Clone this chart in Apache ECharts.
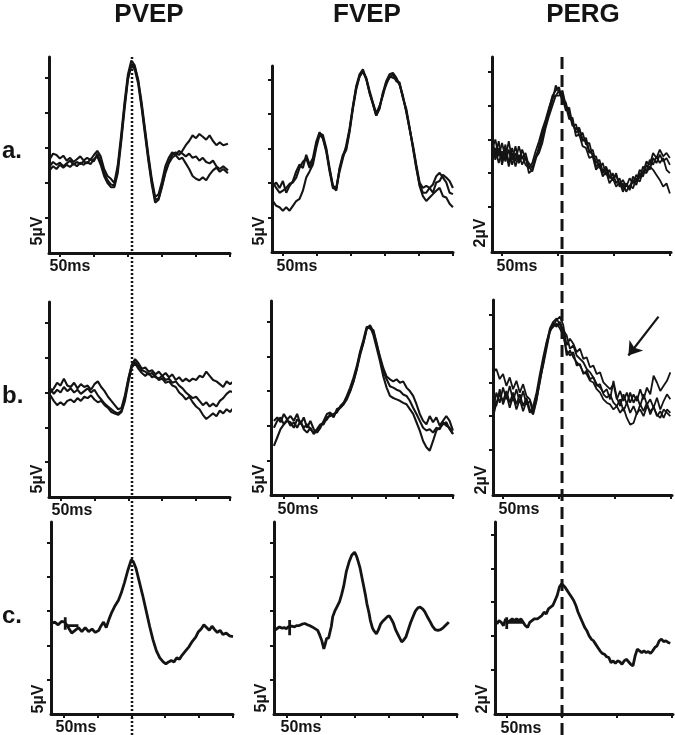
<!DOCTYPE html>
<html><head><meta charset="utf-8">
<script src="https://cdn.jsdelivr.net/npm/echarts@6/dist/echarts.min.js"></script>
<style>html,body{margin:0;padding:0;background:#fff}#c{width:675px;height:735px}</style>
</head><body><div id="c"></div>
<script>
// ---------- labels ----------
const columnTitles = ['PVEP', 'FVEP', 'PERG'];
const rowLabels = ['a.', 'b.', 'c.'];
const timeScaleLabel = '50ms';
const ampScaleLabels = ['5µV', '5µV', '2µV'];

// ---------- tick values ----------
const vepTicksMs = [0, 50, 100, 150, 200, 250];
const pergTicksMs = [0, 50, 100, 150];
const vepTicksUv = [5, 10, 15, 20, 25];
const pergTicksUv = [0, 2, 4, 6, 8];

// ---------- reference latencies ----------
const pvepP100Ms = 106;   // dotted line
const pergP50Ms = 53.6;   // dashed line
const pergArrowFrom = [139.4, 7.9];
const pergArrowTo = [112.4, 5.6];

// ---------- PVEP (µV vs ms) ----------
const pvepTimesA = [-15,-10,-5,0,5,10,15,20,25,30,35,40,45,50,55,60,65,70,75,80,85,90,95,100,105,110,115,120,125,130,135,140,145,150,155,160,165,170,175,180,185,190,195,200,205,210,215,220,225,230,235,240,247];
const pvepA1 = [13.4,14.2,14.0,13.5,13.9,13.2,13.6,13.0,13.4,13.8,13.2,13.6,13.3,14.0,14.6,13.8,12.0,11.0,10.6,10.0,12.5,16.8,21.5,25.5,27.5,26.8,24.6,21.2,17.4,13.6,10.2,7.6,7.8,9.6,11.6,13.0,14.0,14.4,14.0,14.6,15.4,16.0,16.8,16.4,17.0,16.6,16.2,16.8,16.0,15.4,15.8,15.4,15.6];
const pvepA2 = [12.4,13.0,12.6,12.9,12.4,12.8,13.2,12.6,13.0,12.7,13.1,12.8,13.4,13.1,14.2,13.0,11.4,10.4,9.8,9.6,12.0,16.2,21.0,25.0,27.0,26.6,24.8,21.6,17.8,14.0,10.6,8.0,8.4,10.2,12.4,13.6,14.4,14.0,14.6,14.2,13.8,14.2,13.6,13.8,13.2,13.6,13.0,12.8,13.2,12.4,12.0,12.4,11.8];
const pvepA3 = [11.8,12.4,12.0,12.6,12.2,12.6,12.3,12.8,12.4,12.9,12.6,13.0,12.7,13.4,13.8,12.6,11.0,10.0,9.4,9.4,11.4,15.8,20.5,24.8,26.8,26.2,24.2,20.8,17.0,13.2,9.8,7.2,7.6,9.4,11.4,12.8,13.6,14.0,13.4,13.6,12.8,12.0,11.0,10.6,10.4,10.8,10.4,11.2,11.8,12.2,11.6,12.0,11.4];

const pvepTimesB = [-15,-10,-5,0,5,10,15,20,25,30,35,40,45,50,55,60,65,70,75,80,85,90,95,100,105,110,115,120,125,130,135,140,145,150,155,160,165,170,175,180,185,190,195,200,205,210,215,220,225,230,235,240,245,250,255];
const pvepB1 = [15.0,15.6,16.4,16.0,17.0,16.0,15.8,16.4,15.6,16.2,15.8,16.0,15.4,16.2,16.6,15.8,15.2,14.4,13.8,13.2,12.6,12.8,14.6,17.0,19.0,19.8,19.2,18.4,18.6,18.0,18.2,17.6,18.0,17.4,17.8,17.2,17.6,16.8,17.2,16.6,17.0,16.6,17.0,16.8,17.4,17.2,18.0,17.4,16.8,16.6,16.2,15.8,16.6,16.2,16.6];
const pvepB2 = [15.6,14.8,15.4,15.0,15.8,15.2,15.6,15.0,15.4,14.8,15.2,15.6,15.0,15.4,14.6,14.0,13.4,13.0,12.6,12.2,12.0,12.4,14.2,16.8,18.8,19.4,18.8,18.2,18.0,17.6,17.8,17.2,17.0,17.4,16.8,17.0,16.4,16.6,16.0,15.6,15.0,14.6,14.2,14.4,13.8,13.2,13.6,13.0,13.4,13.0,13.8,14.2,14.8,15.2,15.0];
const pvepB3 = [14.6,13.8,13.2,13.6,13.2,13.8,14.0,13.6,14.2,13.8,14.4,14.2,14.6,14.0,13.6,13.8,13.2,12.8,12.2,12.0,11.8,12.2,13.8,16.4,18.6,19.2,18.4,17.8,17.4,17.8,17.2,17.4,16.8,17.0,16.4,16.6,16.0,15.8,15.0,14.6,14.0,14.4,13.6,13.0,12.6,11.8,11.2,11.6,12.0,11.6,12.4,12.0,12.6,12.2,12.8];

const pvepC = [[-18,13.2],[-13,13.4],[-8,13.0],[-3,13.5],[2,13.4],[7,12.6],[12,11.8],[17,12.2],[22,12.6],[27,12.0],[32,12.6],[37,12.0],[42,12.4],[47,11.9],[52,12.2],[55,12.8],[59,13.4],[63,12.6],[67,13.8],[71,14.8],[76,15.8],[81,16.6],[85,17.6],[90,19.2],[95,21.0],[100,22.5],[103,22.2],[107,21.2],[112,19.2],[117,17.2],[122,15.0],[127,12.8],[132,10.8],[137,9.2],[142,8.2],[147,7.6],[151,7.3],[155,7.6],[159,7.8],[163,7.6],[167,8.2],[171,8.0],[175,8.6],[180,9.2],[185,9.8],[190,10.6],[195,11.2],[199,12.0],[203,12.4],[207,13.0],[211,12.6],[215,12.2],[219,12.8],[223,12.3],[227,11.9],[231,12.2],[235,11.6],[240,11.8],[245,11.4],[250,11.3]];
const pvepCStart = [[2.5,14.1],[2.5,12.3],[2.5,12.9],[22,12.9]];

// ---------- FVEP (µV vs ms) ----------
const fvepTimesAB = [-14.7,-9.8,-4.9,0,4.9,9.8,14.7,19.6,24.5,29.4,34.3,39.2,44.1,49,53.9,58.8,63.7,68.6,73.5,78.4,83.3,88.2,93.1,98,102.9,107.8,112.7,117.6,122.5,127.4,132.3,137.2,142.1,147,151.9,156.8,161.7,166.6,171.5,176.4,181.3,186.2,191.1,196,200.9,205.8,210.7,215.6,220.5,225.4,230.3,235.2,240.1,245,249.9];
const fvepA1 = [9.6,10.1,9.3,10.3,8.6,9.6,10.3,11.7,12.7,12.2,14.1,12.7,13.6,16.0,17.4,16.5,14.6,11.7,9.3,9.1,11.7,13.6,15.5,17.9,21.2,24.1,25.8,26.5,25.1,23.1,21.5,19.8,20.8,23.1,24.8,25.8,26.0,25.3,24.3,22.7,20.3,17.9,15.5,12.7,10.1,9.3,9.6,9.3,9.8,11.0,11.5,10.8,10.1,8.6,8.4];
const fvepA2 = [10.1,9.3,8.6,8.9,9.3,9.9,10.1,10.8,12.2,13.1,13.6,12.2,13.1,15.5,17.2,17.0,15.1,12.2,9.6,8.9,12.2,14.1,15.1,17.7,21.0,23.9,25.5,26.2,25.3,23.4,21.7,20.1,21.2,22.7,24.6,25.3,25.8,24.8,24.6,22.4,20.8,18.1,15.1,12.2,9.8,8.6,8.6,9.3,8.6,10.1,10.3,11.2,10.8,10.3,9.3];
const fvepA3 = [7.4,6.7,6.5,6.0,6.5,6.0,6.7,7.4,7.7,8.9,10.8,11.7,12.7,15.1,17.0,16.5,14.8,12.0,9.6,9.3,12.0,13.9,14.8,17.4,20.8,23.6,25.5,26.2,25.1,23.1,21.5,19.8,21.0,23.1,24.3,25.5,25.3,25.1,24.3,22.4,20.5,17.9,15.3,12.4,9.6,8.1,7.4,7.9,8.4,8.9,9.3,8.1,7.9,7.0,6.5];
const fvepB1 = [10.7,11.2,10.5,11.7,10.9,11.4,10.7,11.7,10.2,11.2,9.7,10.7,9.5,9.0,9.7,10.7,11.7,11.9,11.2,12.4,12.6,13.1,14.0,15.0,16.4,18.1,20.2,21.9,24.0,24.5,23.6,21.7,20.0,18.3,17.1,16.7,16.4,16.7,16.2,16.4,15.5,15.0,14.3,13.1,11.7,10.7,10.2,11.4,10.5,11.2,10.0,10.7,11.4,10.7,9.3];
const fvepB2 = [9.7,10.7,11.2,10.2,10.7,10.5,9.7,10.9,10.5,9.7,10.2,9.5,9.0,9.5,10.2,10.2,11.2,11.4,11.7,11.9,12.8,13.3,14.3,15.5,16.9,18.6,20.7,22.4,24.3,24.0,23.8,21.9,19.7,17.8,16.7,15.7,15.5,15.2,15.0,14.5,14.3,13.6,12.6,11.7,10.7,9.7,9.3,9.5,9.0,9.7,9.5,10.5,10.0,9.7,8.8];
const fvepB3 = [7.1,8.3,9.5,10.2,10.9,10.0,10.5,9.7,10.7,9.5,9.0,9.7,8.8,9.3,10.0,10.5,10.9,11.7,11.4,12.1,12.6,13.1,13.8,15.0,16.4,18.3,20.5,22.1,24.0,24.3,23.1,21.2,19.3,17.1,15.5,14.3,14.0,13.8,13.6,13.3,13.1,12.4,11.7,10.5,9.3,7.8,6.9,6.4,7.8,9.3,9.7,10.2,10.5,9.5,8.8];
const fvepC = [[-17,12.2],[-13,12.5],[-10,12.7],[-6,12.5],[-3,12.6],[0,12.45],[3,12.7],[5,12.6],[8,12.8],[12,12.7],[15,12.9],[19,12.9],[23,13.1],[27,13.2],[31,13.0],[34,12.9],[38,12.7],[42,12.45],[46,12.2],[49,11.5],[52,10.7],[55,9.5],[57,10.2],[59,11.0],[62,11.1],[64,11.3],[66,12.8],[68,14.2],[71,15.0],[74,15.6],[78,16.4],[81,17.4],[84,18.6],[88,20.8],[92,22.2],[96,23.2],[100,23.6],[103,23.0],[106,22.0],[108,21.3],[111,19.8],[113,18.8],[116,17.3],[118,16.1],[121,14.8],[123,13.7],[126,12.6],[128,12.2],[132,11.7],[135,12.3],[138,13.1],[142,13.6],[145,13.9],[148,14.2],[151,14.3],[154,13.8],[157,13.2],[160,12.3],[164,11.5],[169,10.5],[172,10.8],[175,11.2],[179,12.4],[182,13.3],[186,14.3],[189,15.0],[193,15.5],[196,15.6],[200,15.3],[203,14.9],[207,14.1],[211,13.4],[214,12.8],[218,12.3],[222,12.2],[226,12.3],[230,12.6],[233,12.9],[236,13.2],[238,13.4]];
const fvepCStart = [[4.9,13.7],[4.9,11.5]];

// ---------- PERG (µV vs ms) ----------
const pergTimesAB = [-9,-6,-3,0,3,6,9,12,15,18,21,24,27,30,33,36,39,42,45,48,51,54,57,60,63,66,69,72,75,78,81,84,87,90,93,96,99,102,105,108,111,114,117,120,123,126,129,132,135,138,141,144,147,150];
const pergA1 = [4.2,3.0,3.9,2.8,3.7,2.6,3.5,2.7,3.6,2.9,3.2,2.4,2.1,2.8,3.6,4.4,5.0,5.6,6.3,7.2,6.8,6.4,6.2,5.4,5.0,4.4,4.6,3.9,4.1,3.3,3.1,2.4,2.6,2.0,2.3,1.7,2.0,1.4,1.7,1.1,1.4,1.0,1.6,1.3,2.0,1.8,2.5,2.2,2.9,2.6,3.1,2.7,2.9,2.5];
const pergA2 = [3.4,4.0,3.0,3.8,2.9,3.9,2.8,3.6,2.7,3.4,2.8,2.6,2.3,3.0,3.4,4.1,4.9,5.8,6.6,6.9,7.1,6.2,6.0,5.6,4.8,4.9,4.2,4.4,3.7,3.8,3.0,3.0,2.3,2.6,1.9,2.2,1.6,1.9,1.3,1.6,1.2,1.7,1.4,1.9,1.7,2.4,2.1,2.8,2.5,3.0,2.6,2.9,2.2,2.0];
const pergA3 = [3.0,3.5,2.6,3.3,2.7,3.4,2.5,3.2,2.6,3.0,2.5,2.3,2.6,3.3,3.9,4.6,5.2,5.9,6.5,6.6,6.9,6.5,5.7,5.9,4.9,4.6,4.7,4.0,3.9,3.2,3.4,2.6,2.8,2.1,2.4,1.8,1.6,2.0,1.2,1.4,0.9,1.3,1.1,1.7,1.5,2.1,2.0,2.4,2.2,1.9,1.6,1.2,1.4,0.8];
const pergA4 = [3.8,2.8,3.5,2.5,3.4,2.4,3.2,2.4,3.1,2.5,3.0,2.0,2.2,2.9,3.2,3.8,4.7,5.4,6.0,6.6,6.6,6.9,6.0,5.2,5.3,4.2,4.3,3.6,3.5,2.9,3.0,2.2,2.5,1.8,2.1,1.4,1.7,1.2,1.5,0.9,1.3,1.1,1.8,1.5,2.2,2.0,2.7,2.5,3.2,2.9,3.4,3.0,3.2,2.9];
const pergB1 = [4.6,4.8,4.2,4.5,3.8,4.3,3.6,4.1,3.4,3.9,3.2,3.0,2.4,3.2,4.2,5.0,6.0,7.0,7.4,7.7,7.9,7.4,6.2,6.6,6.3,5.8,6.0,5.4,5.5,4.9,5.0,4.5,4.6,4.0,3.8,3.6,3.9,3.0,3.5,2.9,3.4,2.8,3.3,2.9,3.6,3.0,3.7,3.3,4.4,4.0,3.5,3.8,4.1,4.6];
const pergB2 = [2.3,3.4,2.8,3.7,3.0,3.8,2.9,3.6,2.8,3.5,2.7,2.9,2.2,3.0,4.0,5.1,6.2,7.0,7.5,7.3,7.6,7.1,6.8,6.0,6.2,5.6,5.4,5.2,4.8,4.6,4.3,3.9,3.7,3.4,3.6,3.0,4.1,3.1,2.6,3.3,2.7,3.4,2.8,3.2,2.6,3.3,2.7,3.0,2.5,3.1,2.4,2.9,3.3,3.0];
const pergB3 = [1.9,2.8,3.3,2.9,3.5,2.8,3.4,2.7,3.3,2.6,3.1,2.4,2.1,2.9,4.1,5.2,6.3,7.2,7.6,7.8,7.4,7.0,5.6,5.9,5.5,5.2,5.0,4.6,4.5,4.1,4.0,3.6,3.4,3.0,2.8,2.7,2.4,2.6,2.2,2.5,1.9,1.5,1.6,2.2,2.4,2.0,2.6,2.3,2.5,2.1,1.9,2.4,2.2,2.0];
const pergB4 = [3.2,2.6,3.6,2.7,3.3,2.5,3.2,2.4,3.0,2.3,2.9,2.2,2.6,3.4,4.5,5.5,6.4,7.1,7.3,7.5,7.2,6.8,5.9,5.6,5.8,5.0,5.1,4.5,4.7,4.2,4.3,3.8,3.9,3.3,3.1,3.3,2.8,2.6,3.0,2.3,2.8,2.2,2.6,2.1,2.7,2.3,2.8,2.1,2.6,2.0,2.3,1.9,2.4,2.2];
const pergC = [[-9,2.7],[-7,2.9],[-5,2.8],[-3,2.6],[-1,3.0],[1,2.8],[3,2.9],[5,3.0],[7,2.9],[9,3.0],[11,2.9],[13,3.0],[15,2.8],[17,2.6],[19,2.5],[21,2.8],[23,2.9],[25,3.0],[28,3.0],[30,3.1],[32,3.2],[34,3.4],[36,3.3],[38,3.6],[40,3.7],[42,3.8],[44,4.1],[46,4.4],[48,4.9],[50,5.1],[51,5.2],[53,4.9],[55,4.7],[57,4.5],[59,4.3],[61,4.1],[63,3.8],[65,3.4],[67,3.1],[69,2.8],[71,2.5],[73,2.3],[75,2.0],[77,1.8],[79,1.7],[81,1.5],[83,1.3],[85,1.1],[87,0.95],[89,0.9],[91,0.75],[93,0.7],[95,0.4],[97,0.5],[99,0.35],[101,0.5],[103,0.45],[105,0.3],[107,0.5],[109,0.6],[111,0.45],[113,0.3],[115,0.2],[117,0.8],[119,1.2],[121,1.1],[123,1.0],[125,1.1],[127,1.0],[129,1.05],[131,0.95],[133,1.1],[135,1.3],[137,1.4],[139,1.7],[141,1.8],[143,1.65],[145,1.7],[147,1.6],[149,1.55]];
const pergCStart = [[0,3.1],[0,2.4],[0,2.8],[15,2.8]];

// ---------- build ----------
const zip = (t, v) => t.map((x, i) => [x, v[i]]);
const INK = '#141414';

const panels = [
  // column 1 : PVEP
  {g:{left:49, top:57, width:181, height:196}, x:[-16,250], y:[0,28], xt:vepTicksMs, yt:vepTicksUv, lw:2.1,
   traces:[zip(pvepTimesA,pvepA1), zip(pvepTimesA,pvepA2), zip(pvepTimesA,pvepA3)]},
  {g:{left:49, top:302, width:181, height:195}, x:[-17,250], y:[0,28], xt:vepTicksMs, yt:vepTicksUv, lw:2.1,
   traces:[zip(pvepTimesB,pvepB1), zip(pvepTimesB,pvepB2), zip(pvepTimesB,pvepB3)]},
  {g:{left:51, top:522, width:182, height:192}, x:[-18.5,250], y:[0,28], xt:vepTicksMs, yt:vepTicksUv, lw:2.8,
   traces:[pvepC, pvepCStart]},
  // column 2 : FVEP
  {g:{left:272, top:66, width:181, height:186}, x:[-16,250], y:[0,27], xt:vepTicksMs, yt:vepTicksUv, lw:2.1,
   traces:[zip(fvepTimesAB,fvepA1), zip(fvepTimesAB,fvepA2), zip(fvepTimesAB,fvepA3)]},
  {g:{left:271, top:301, width:182, height:194}, x:[-19,250], y:[0,28], xt:vepTicksMs, yt:vepTicksUv, lw:2.1,
   traces:[zip(fvepTimesAB,fvepB1), zip(fvepTimesAB,fvepB2), zip(fvepTimesAB,fvepB3)]},
  {g:{left:274, top:522, width:183, height:192}, x:[-18,250], y:[0,28], xt:vepTicksMs, yt:vepTicksUv, lw:2.8,
   traces:[fvepC, fvepCStart]},
  // column 3 : PERG
  {g:{left:492, top:57, width:179, height:195}, x:[-9,151], y:[-2.67,8.89], xt:pergTicksMs, yt:pergTicksUv, lw:1.8,
   traces:[zip(pergTimesAB,pergA1), zip(pergTimesAB,pergA2), zip(pergTimesAB,pergA3), zip(pergTimesAB,pergA4)]},
  {g:{left:493, top:300, width:179, height:195}, x:[-9,151.5], y:[-2.67,8.89], xt:pergTicksMs, yt:pergTicksUv, lw:1.8,
   traces:[zip(pergTimesAB,pergB1), zip(pergTimesAB,pergB2), zip(pergTimesAB,pergB3), zip(pergTimesAB,pergB4)], arrow:true},
  {g:{left:495, top:522, width:178, height:192}, x:[-10.7,151.5], y:[-2.66,8.77], xt:pergTicksMs, yt:pergTicksUv, lw:2.8,
   traces:[pergC, pergCStart]}
];

const grid = [], xAxis = [], yAxis = [], series = [];
panels.forEach((p, i) => {
  grid.push(Object.assign({containLabel:false}, p.g));
  xAxis.push({type:'value', gridIndex:i, min:p.x[0], max:p.x[1],
    axisLine:{show:true, onZero:false, lineStyle:{color:INK, width:3}},
    axisTick:{show:true, customValues:p.xt, length:4, inside:false, lineStyle:{color:INK, width:2}},
    axisLabel:{show:false}, splitLine:{show:false}});
  yAxis.push({type:'value', gridIndex:i, min:p.y[0], max:p.y[1],
    axisLine:{show:true, onZero:false, lineStyle:{color:INK, width:3}},
    axisTick:{show:true, customValues:p.yt, length:4, inside:false, lineStyle:{color:INK, width:2}},
    axisLabel:{show:false}, splitLine:{show:false}});
  p.traces.forEach((tr, k) => {
    const s = {type:'line', xAxisIndex:i, yAxisIndex:i, data:tr, showSymbol:false, symbol:'none',
      clip:false, silent:true, lineStyle:{color:INK, width:p.lw}, z:3};
    if (p.arrow && k === 0) {
      s.markLine = {silent:true, symbol:['none','arrow'], symbolSize:13, animation:false,
        label:{show:false}, lineStyle:{color:INK, width:2.2, type:'solid'},
        emphasis:{disabled:true},
        data:[[{coord:pergArrowFrom, symbol:'none'}, {coord:pergArrowTo, symbol:'arrow', symbolSize:13}]]};
    }
    series.push(s);
  });
});

// overlay grids for the latency lines spanning all rows
const overlays = [
  {g:{left:49, top:55, width:181, bottom:0}, x:[-16,250], at:pvepP100Ms, dash:[2,2], w:2.5},
  {g:{left:492, top:52, width:179, bottom:0}, x:[-9,151], at:pergP50Ms, dash:[12,6], w:3}
];
overlays.forEach(o => {
  const i = grid.length;
  grid.push(o.g);
  xAxis.push({type:'value', gridIndex:i, min:o.x[0], max:o.x[1], show:false});
  yAxis.push({type:'value', gridIndex:i, min:0, max:1, show:false});
  series.push({type:'line', xAxisIndex:i, yAxisIndex:i, data:[[o.at,0],[o.at,1]], showSymbol:false,
    symbol:'none', silent:true, clip:false, z:4, lineStyle:{color:INK, width:o.w, type:o.dash}});
});

// texts
const FONT = '"Liberation Sans", Arial, sans-serif';
const graphic = [];
const titleX = [149, 367, 583];
columnTitles.forEach((t, i) => graphic.push({type:'text', x:titleX[i], y:15,
  style:{text:t, align:'center', verticalAlign:'middle', font:'bold 26px ' + FONT, fill:INK}}));
const rowY = [151, 396, 616];
rowLabels.forEach((t, i) => graphic.push({type:'text', x:2, y:rowY[i],
  style:{text:t, align:'left', verticalAlign:'middle', font:'bold 24px ' + FONT, fill:INK}}));
const msPos = [[70,267],[72,511],[76,728],[297,267],[298,510],[301,728],[517,267],[519,510],[521,729]];
msPos.forEach(p => graphic.push({type:'text', x:p[0], y:p[1],
  style:{text:timeScaleLabel, align:'center', verticalAlign:'middle', font:'bold 16px ' + FONT, fill:INK}}));
const uvPos = [[38,231,0],[38,479,0],[39,699,0],[260,231,1],[260,479,1],[262,698,1],[481,233,2],[482,480,2],[483,699,2]];
uvPos.forEach(p => graphic.push({type:'text', x:p[0], y:p[1], rotation:Math.PI/2,
  style:{text:ampScaleLabels[p[2]], align:'center', verticalAlign:'middle', font:'bold 16px ' + FONT, fill:INK}}));

const chart = echarts.init(document.getElementById('c'), null, {renderer:'canvas'});
chart.setOption({animation:false, backgroundColor:'#fff', grid, xAxis, yAxis, series, graphic});
</script>
</body></html>
